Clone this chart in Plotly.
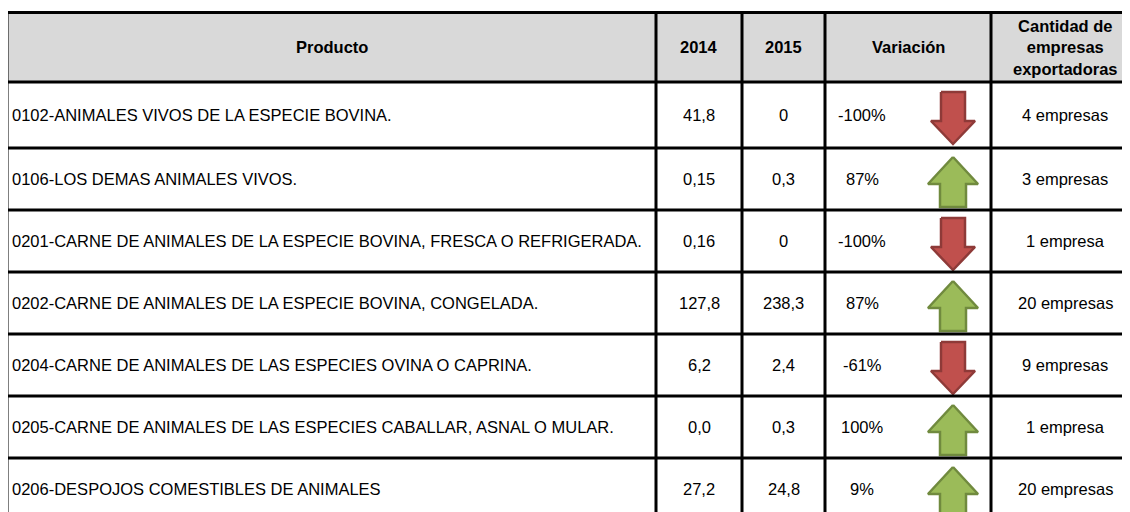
import numpy as np
import plotly.graph_objects as go

# --- data ---------------------------------------------------------------
productos = [
    "0102-ANIMALES VIVOS DE LA ESPECIE BOVINA.",
    "0106-LOS DEMAS ANIMALES VIVOS.",
    "0201-CARNE DE ANIMALES DE LA ESPECIE BOVINA, FRESCA O REFRIGERADA.",
    "0202-CARNE DE ANIMALES DE LA ESPECIE BOVINA, CONGELADA.",
    "0204-CARNE DE ANIMALES DE LAS ESPECIES OVINA O CAPRINA.",
    "0205-CARNE DE ANIMALES DE LAS ESPECIES CABALLAR, ASNAL O MULAR.",
    "0206-DESPOJOS COMESTIBLES DE ANIMALES",
]
valores_2014 = ["41,8", "0,15", "0,16", "127,8", "6,2", "0,0", "27,2"]
valores_2015 = ["0", "0,3", "0", "238,3", "2,4", "0,3", "24,8"]
variacion = [-100, 87, -100, 87, -61, 100, 9]
empresas = [4, 3, 1, 20, 9, 1, 20]
encabezados = ["Producto", "2014", "2015", "Variación",
               "Cantidad de<br>empresas<br>exportadoras"]

# --- layout constants (page pixels; the page body has an 8px margin) -----
PAD = 8
W, H = 1130, 512
COL_X = [7, 656, 742, 825, 991, 1139]      # column edges
TOP = 12.5
HEADER_H = 69.5
ROW_H = [66, 62, 62, 62, 62, 62, 62]
LINE = 3
FONT = "Liberation Sans, Arial, sans-serif"
FS = 16.5
RED, RED_EDGE = "#C0504D", "#8E3A38"
GREEN, GREEN_EDGE = "#9BBB59", "#708A3E"
ARROW_X = 953
VAR_TEXT_X = 862

row_top = TOP + HEADER_H + np.concatenate([[0], np.cumsum(ROW_H)[:-1]])
row_bot = row_top + np.array(ROW_H)
row_mid = (row_top + row_bot) / 2
bottom = row_bot[-1]

fig = go.Figure()

shapes = [dict(type="rect", x0=COL_X[0], x1=COL_X[-1], y0=TOP, y1=TOP + HEADER_H,
               fillcolor="#D9D9D9", line=dict(width=0), layer="below")]
# horizontal lines
for y in [TOP, TOP + HEADER_H] + list(row_bot):
    shapes.append(dict(type="line", x0=COL_X[0] - LINE / 2, x1=COL_X[-1], y0=y, y1=y,
                       line=dict(color="black", width=LINE)))
# vertical lines
for x in COL_X:
    shapes.append(dict(type="line", x0=x, x1=x, y0=TOP - LINE / 2, y1=bottom,
                       line=dict(color="black", width=LINE)))

ann = []
hdr_mid = TOP + HEADER_H / 2
for i, h in enumerate(encabezados):
    ann.append(dict(x=(COL_X[i] + COL_X[i + 1]) / 2, y=hdr_mid, text=h,
                    showarrow=False, font=dict(size=FS, color="black", family=FONT,
                                               weight="bold"),
                    xanchor="center", yanchor="middle"))

for r in range(len(productos)):
    y = row_mid[r]
    ann.append(dict(x=COL_X[0] + 3, y=y, text=productos[r], showarrow=False,
                    xanchor="left", yanchor="middle",
                    font=dict(size=FS, color="black", family=FONT)))
    ann.append(dict(x=(COL_X[1] + COL_X[2]) / 2, y=y, text=valores_2014[r],
                    showarrow=False, font=dict(size=FS, color="black", family=FONT)))
    ann.append(dict(x=(COL_X[2] + COL_X[3]) / 2, y=y, text=valores_2015[r],
                    showarrow=False, font=dict(size=FS, color="black", family=FONT)))
    ann.append(dict(x=VAR_TEXT_X, y=y, text=f"{variacion[r]}%", showarrow=False,
                    font=dict(size=FS, color="black", family=FONT)))
    n = empresas[r]
    ann.append(dict(x=(COL_X[4] + COL_X[5]) / 2, y=y,
                    text=f"{n} empresa" + ("s" if n != 1 else ""), showarrow=False,
                    font=dict(size=FS, color="black", family=FONT)))

# arrows
for r, v in enumerate(variacion):
    cy = row_mid[r] + 3
    if v < 0:
        hw, sw, top, hb, tip = 22, 12, cy - 26, cy + 3, cy + 26
        xs = [ARROW_X - sw, ARROW_X + sw, ARROW_X + sw, ARROW_X + hw, ARROW_X,
              ARROW_X - hw, ARROW_X - sw, ARROW_X - sw]
        ys = [top, top, hb, hb, tip, hb, hb, top]
        fill, edge = RED, RED_EDGE
    else:
        hw, sw, tip, hb, bot = 25, 13, cy - 25, cy + 2, cy + 25
        xs = [ARROW_X, ARROW_X + hw, ARROW_X + sw, ARROW_X + sw, ARROW_X - sw,
              ARROW_X - sw, ARROW_X - hw, ARROW_X]
        ys = [tip, hb, hb, bot, bot, hb, hb, tip]
        fill, edge = GREEN, GREEN_EDGE
    fig.add_trace(go.Scatter(x=xs, y=ys, mode="lines", fill="toself",
                             fillcolor=fill, line=dict(color=edge, width=2.5),
                             hoverinfo="skip", showlegend=False))

# figure sits at (PAD, PAD) on the page, so axes run in page pixels
fig.update_layout(
    width=W - PAD, height=H - PAD, margin=dict(l=0, r=0, t=0, b=0),
    paper_bgcolor="white", plot_bgcolor="white",
    shapes=shapes, annotations=ann, showlegend=False,
    xaxis=dict(range=[PAD, W], visible=False, fixedrange=True),
    yaxis=dict(range=[H, PAD], visible=False, fixedrange=True),
)
fig.write_html("out.html")
